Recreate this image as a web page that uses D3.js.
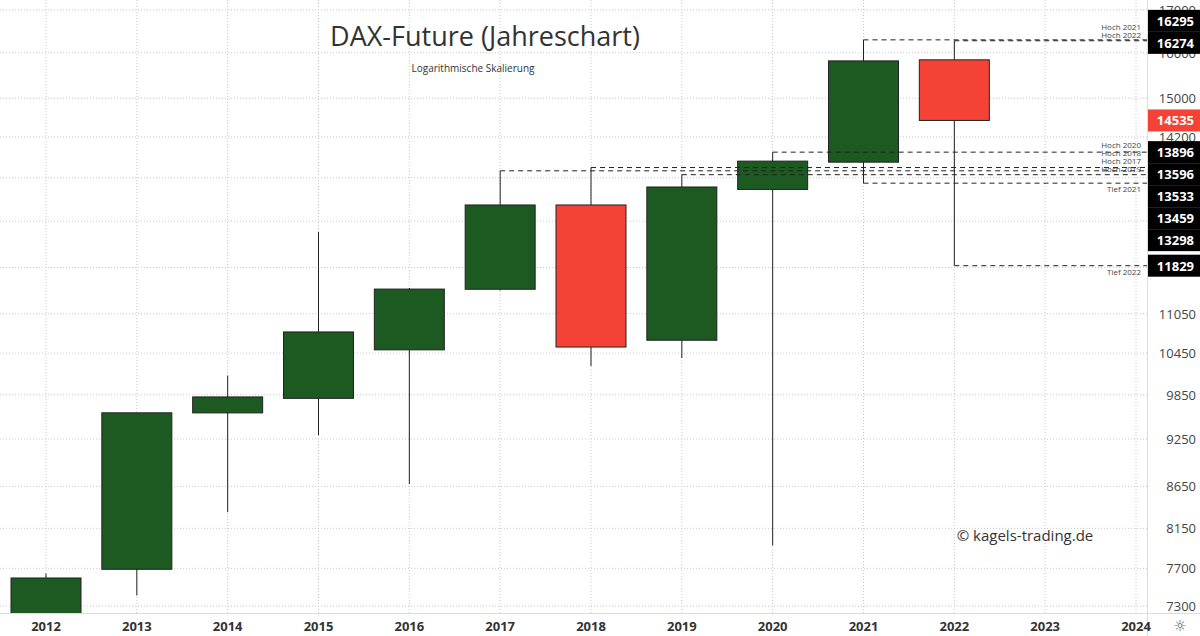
<!DOCTYPE html>
<html>
<head>
<meta charset="utf-8">
<script src="https://cdn.jsdelivr.net/npm/d3@7"></script>
<style>
  body { margin: 0; background: #fff; }
  text { font-family: "Open Sans", "DejaVu Sans", sans-serif; }
</style>
</head>
<body>
<div id="chart"></div>
<script>
'use strict';

var years  = [2012, 2013, 2014, 2015, 2016, 2017, 2018, 2019, 2020, 2021, 2022];
var opens  = [5900, 7690, 9600, 9800, 10498, 11440, 12893, 10642, 13180, 13700, 15840];
var highs  = [7644, 9601, 10120, 12408, 11460, 13533, 13596, 13459, 13896, 16295, 16274];
var lows   = [5900, 7410, 8340, 9300, 8678, 11420, 10261, 10377, 7955, 13298, 11829];
var closes = [7596, 9601, 9820, 10768, 11443, 12893, 10540, 13226, 13720, 15816, 14535];

var axisYears = [2012, 2013, 2014, 2015, 2016, 2017, 2018, 2019, 2020, 2021, 2022, 2023, 2024];
var gridTicks = [17000, 16000, 15000, 14200, 13400, 12600, 11800, 11050, 10450, 9850, 9250, 8650, 8150, 7700, 7300];
var tickLabels = [17000, 16000, 15000, 14200, 11050, 10450, 9850, 9250, 8650, 8150, 7700, 7300];

// marked levels: year, value, label
var levelYears  = [2021, 2022, 2020, 2018, 2017, 2019, 2021, 2022];
var levelValues = [16295, 16274, 13896, 13596, 13533, 13459, 13298, 11829];
var levelNames  = ['Hoch 2021', 'Hoch 2022', 'Hoch 2020', 'Hoch 2018', 'Hoch 2017', 'Hoch 2019', 'Tief 2021', 'Tief 2022'];

var w = 1200, h = 636;
var plotRight = 1147, plotBottom = 613;

var svg = d3.select('#chart').append('svg').attr('width', w).attr('height', h);

var x = d3.scaleLinear().domain([2012, 2024]).range([46, 1136]);
var y = d3.scaleLog().domain([7300, 17000]).range([606, 10]);

svg.append('clipPath').attr('id', 'plot')
  .append('rect').attr('x', 0).attr('y', 0).attr('width', plotRight).attr('height', plotBottom);

/* Grid */

svg.selectAll('.hgrid').data(gridTicks).enter().append('line')
  .attr('x1', 0).attr('x2', plotRight)
  .attr('y1', function (d) { return y(d); }).attr('y2', function (d) { return y(d); })
  .style('stroke', '#c8c8c8').style('stroke-dasharray', '1,2');

svg.selectAll('.vgrid').data(axisYears).enter().append('line')
  .attr('x1', function (d) { return x(d); }).attr('x2', function (d) { return x(d); })
  .attr('y1', 0).attr('y2', plotBottom)
  .style('stroke', '#c8c8c8').style('stroke-dasharray', '1,2');

/* Axis frame */

svg.append('line').attr('x1', 0).attr('x2', w).attr('y1', plotBottom + 0.5).attr('y2', plotBottom + 0.5)
  .style('stroke', '#ddd');
svg.append('line').attr('x1', plotRight + 0.5).attr('x2', plotRight + 0.5).attr('y1', 0).attr('y2', h)
  .style('stroke', '#ddd');

/* Year labels */

svg.selectAll('.year').data(axisYears).enter().append('text')
  .attr('x', function (d) { return x(d); }).attr('y', 631)
  .attr('text-anchor', 'middle').attr('font-size', '13px').attr('font-weight', 'bold')
  .attr('fill', '#333').text(function (d) { return d; });

/* Price tick labels */

svg.selectAll('.tick').data(tickLabels).enter().append('text')
  .attr('x', 1196).attr('y', function (d) { return y(d) + 5; })
  .attr('text-anchor', 'end').attr('font-size', '13px').attr('fill', '#444')
  .text(function (d) { return d; });

/* Candles */

var candles = years.map(function (yr, i) {
  return {year: yr, o: opens[i], hi: highs[i], lo: lows[i], c: closes[i]};
});
var plot = svg.append('g').attr('clip-path', 'url(#plot)');
var bw = 70;

plot.selectAll('.wick').data(candles).enter().append('line')
  .attr('x1', function (d) { return x(d.year); }).attr('x2', function (d) { return x(d.year); })
  .attr('y1', function (d) { return y(d.hi); }).attr('y2', function (d) { return y(d.lo); })
  .style('stroke', '#222').style('stroke-width', 1);

plot.selectAll('.body').data(candles).enter().append('rect')
  .attr('x', function (d) { return x(d.year) - bw / 2; })
  .attr('y', function (d) { return y(Math.max(d.o, d.c)); })
  .attr('width', bw)
  .attr('height', function (d) { return Math.abs(y(d.o) - y(d.c)); })
  .style('fill', function (d) { return d.c >= d.o ? '#1c5a21' : '#f44336'; })
  .style('stroke', '#222').style('stroke-width', 1);

/* Level lines */

var levels = levelYears.map(function (yr, i) {
  return {year: yr, v: levelValues[i], name: levelNames[i]};
});

svg.selectAll('.level').data(levels).enter().append('line')
  .attr('x1', function (d) { return x(d.year); }).attr('x2', plotRight)
  .attr('y1', function (d) { return y(d.v); }).attr('y2', function (d) { return y(d.v); })
  .style('stroke', '#222').style('stroke-dasharray', '5,4');

// label positions: Hoch above line, Tief below, nudged apart
levels.forEach(function (d) {
  d.ly = d.name.indexOf('Tief') === 0 ? y(d.v) + 9 : y(d.v) - 3;
});
var sortedLabels = levels.slice().sort(function (a, b) { return b.ly - a.ly; });
for (var i = 1; i < sortedLabels.length; i++) {
  var gap = sortedLabels[i - 1].ly - sortedLabels[i].ly;
  if (gap < 8) sortedLabels[i].ly = sortedLabels[i - 1].ly - 8;
}

svg.selectAll('.levelName').data(levels).enter().append('text')
  .attr('x', 1141)
  .attr('y', function (d) { return d.ly; })
  .attr('text-anchor', 'end').attr('font-size', '8px').attr('fill', '#444')
  .text(function (d) { return d.name; });

/* Price boxes: top pair centred, rest pushed down */

var boxH = 22;
var boxes = levels.map(function (d) { return {v: d.v, cy: y(d.v), fill: '#000'}; });
boxes.push({v: closes[closes.length - 1], cy: y(closes[closes.length - 1]), fill: '#f44336'});
boxes.sort(function (a, b) { return a.cy - b.cy; });
boxes[0].cy -= boxH / 2 + 8;
var prev = -100;
boxes.forEach(function (b) {
  b.cy = Math.max(b.cy, prev + boxH);
  prev = b.cy;
});

svg.selectAll('.pbox').data(boxes).enter().append('rect')
  .attr('x', plotRight + 1).attr('y', function (d) { return d.cy - boxH / 2; })
  .attr('width', w - plotRight).attr('height', boxH)
  .style('fill', function (d) { return d.fill; });

svg.selectAll('.ptext').data(boxes).enter().append('text')
  .attr('x', 1194).attr('y', function (d) { return d.cy + 5; })
  .attr('text-anchor', 'end').attr('font-size', '13px').attr('font-weight', 'bold')
  .attr('fill', '#fff').text(function (d) { return d.v; });

/* Titles */

svg.append('text').attr('x', 485).attr('y', 46).attr('text-anchor', 'middle')
  .attr('font-size', '27px').attr('fill', '#333').text('DAX-Future (Jahreschart)');
svg.append('text').attr('x', 473).attr('y', 72).attr('text-anchor', 'middle')
  .attr('font-size', '10px').attr('fill', '#333').text('Logarithmische Skalierung');
svg.append('text').attr('x', 1025).attr('y', 541).attr('text-anchor', 'middle')
  .attr('font-size', '15px').attr('fill', '#333').text('© kagels-trading.de');

/* Settings glyph */

svg.append('text').attr('x', 1180).attr('y', 631).attr('text-anchor', 'middle')
  .attr('font-size', '15px').attr('fill', '#555').text('☼');
</script>
</body>
</html>
